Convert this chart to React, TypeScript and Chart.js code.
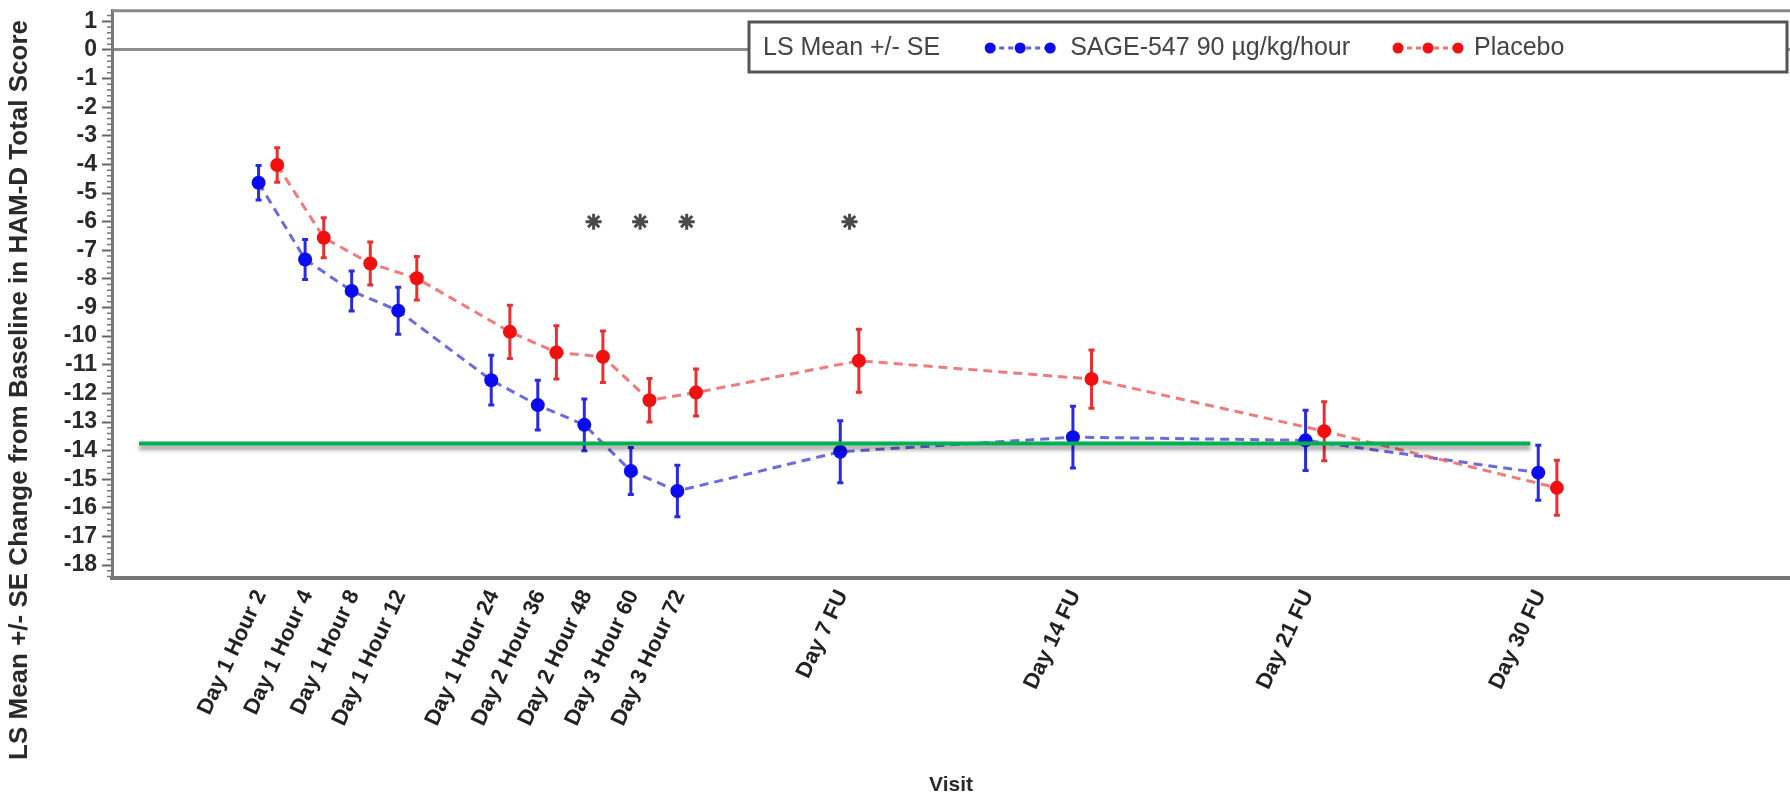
import React, { useEffect, useRef } from "react";
import { Chart, registerables } from "chart.js";

Chart.register(...registerables);

// ---------------- data ----------------
const categories = [
  "Day 1 Hour 2",
  "Day 1 Hour 4",
  "Day 1 Hour 8",
  "Day 1 Hour 12",
  "Day 1 Hour 24",
  "Day 2 Hour 36",
  "Day 2 Hour 48",
  "Day 3 Hour 60",
  "Day 3 Hour 72",
  "Day 7 FU",
  "Day 14 FU",
  "Day 21 FU",
  "Day 30 FU",
];
// position of each visit along the (non-uniform) visit axis
const visitPositions = [0, 1, 2, 3, 5, 6, 7, 8, 9, 12.5, 17.5, 22.5, 27.5];

const sageMean = [-4.64, -7.32, -8.42, -9.11, -11.54, -12.41, -13.1, -14.71, -15.41, -14.04, -13.53, -13.64, -14.77];
const sageSE = [0.6, 0.7, 0.7, 0.82, 0.87, 0.87, 0.9, 0.82, 0.9, 1.08, 1.08, 1.05, 0.96];
const placeboMean = [-4.02, -6.56, -7.46, -7.98, -9.85, -10.57, -10.72, -12.24, -11.97, -10.86, -11.5, -13.32, -15.3];
const placeboSE = [0.6, 0.7, 0.75, 0.76, 0.93, 0.93, 0.9, 0.76, 0.82, 1.1, 1.02, 1.03, 0.96];

const yTicks = [1, 0, -1, -2, -3, -4, -5, -6, -7, -8, -9, -10, -11, -12, -13, -14, -15, -16, -17, -18];
const significantVisits = ["Day 2 Hour 48", "Day 3 Hour 60", "Day 3 Hour 72", "Day 7 FU"];
const starLevel = -6.0;
const referenceLevel = -13.75;
const referenceSpan = [-2.77, 27.13];
const dodge = 0.2;

const yTitle = "LS Mean +/- SE Change from Baseline in HAM-D Total Score";
const xTitle = "Visit";
const legendTitle = "LS Mean +/- SE";
const sageLabel = "SAGE-547 90 \u00b5g/kg/hour";
const placeboLabel = "Placebo";

const FONT = "'Liberation Sans', Arial, sans-serif";

// ---------------- plugin ----------------
const decorPlugin = {
  id: "decor",
  beforeDatasetsDraw(chart: any) {
    const ctx = chart.ctx;
    const yScale = chart.scales.y;
    chart.data.datasets.forEach((ds: any, i: number) => {
      if (!ds.se) return;
      const meta = chart.getDatasetMeta(i);
      ctx.save();
      ctx.strokeStyle = ds.errColor;
      ctx.lineWidth = 3;
      ds.data.forEach((pt: any, j: number) => {
        const el = meta.data[j];
        if (!el) return;
        const x = el.x;
        const yt = yScale.getPixelForValue(pt.y + ds.se[j]);
        const yb = yScale.getPixelForValue(pt.y - ds.se[j]);
        ctx.beginPath();
        ctx.moveTo(x, yt);
        ctx.lineTo(x, yb);
        ctx.moveTo(x - 3, yt);
        ctx.lineTo(x + 3, yt);
        ctx.moveTo(x - 3, yb);
        ctx.lineTo(x + 3, yb);
        ctx.stroke();
      });
      ctx.restore();
    });
  },
  beforeDatasetDraw(chart: any, args: any) {
    const ds = chart.data.datasets[args.index];
    if (ds && ds.isRef) {
      chart.ctx.save();
      chart.ctx.shadowColor = "rgba(0,0,0,0.45)";
      chart.ctx.shadowBlur = 4;
      chart.ctx.shadowOffsetY = 4;
    }
  },
  afterDatasetDraw(chart: any, args: any) {
    const ds = chart.data.datasets[args.index];
    if (ds && ds.isRef) chart.ctx.restore();
  },
  afterDraw(chart: any) {
    const ctx = chart.ctx;
    const area = chart.chartArea;
    const yScale = chart.scales.y;
    ctx.save();
    // top frame line
    ctx.strokeStyle = "#8a8a8a";
    ctx.lineWidth = 3;
    ctx.beginPath();
    ctx.moveTo(area.left, area.top);
    ctx.lineTo(area.right, area.top);
    ctx.stroke();
    // minor ticks
    ctx.strokeStyle = "#777";
    ctx.lineWidth = 1.5;
    ctx.beginPath();
    for (let k = -92; k <= 6; k++) {
      if (k % 5 === 0) continue;
      const y = yScale.getPixelForValue(k / 5);
      ctx.moveTo(area.left - 5, y);
      ctx.lineTo(area.left, y);
    }
    ctx.stroke();
    // y title
    ctx.fillStyle = "#2a2a2a";
    ctx.font = `bold 26px ${FONT}`;
    ctx.textAlign = "center";
    ctx.textBaseline = "middle";
    ctx.translate(20, 390);
    ctx.rotate(-Math.PI / 2);
    ctx.fillText(yTitle, 0, 0);
    ctx.restore();

    // legend
    ctx.save();
    const bx = 749, by = 22, bw = 1038, bh = 50;
    ctx.fillStyle = "#fff";
    ctx.fillRect(bx, by, bw, bh);
    ctx.strokeStyle = "#555";
    ctx.lineWidth = 3;
    ctx.strokeRect(bx, by, bw, bh);
    ctx.font = `25px ${FONT}`;
    ctx.fillStyle = "#444";
    ctx.textBaseline = "middle";
    ctx.textAlign = "left";
    const cy = by + bh / 2 + 1;
    let x = bx + 14;
    ctx.fillText(legendTitle, x, cy);
    x += ctx.measureText(legendTitle).width;
    const drawMarker = (x0: number, color: string, line: string) => {
      ctx.strokeStyle = line;
      ctx.lineWidth = 3;
      ctx.setLineDash([5, 4]);
      ctx.beginPath();
      ctx.moveTo(x0, cy);
      ctx.lineTo(x0 + 60, cy);
      ctx.stroke();
      ctx.setLineDash([]);
      ctx.fillStyle = color;
      for (let i = 0; i < 3; i++) {
        ctx.beginPath();
        ctx.arc(x0 + i * 30, cy, 5.5, 0, Math.PI * 2);
        ctx.fill();
      }
    };
    x += 50;
    drawMarker(x, "#0b0bef", "rgba(70,70,215,0.85)");
    x += 60 + 20;
    ctx.fillStyle = "#444";
    ctx.fillText(sageLabel, x, cy);
    x += ctx.measureText(sageLabel).width + 48;
    drawMarker(x, "#f01010", "rgba(238,100,100,0.9)");
    x += 60 + 16;
    ctx.fillStyle = "#444";
    ctx.fillText(placeboLabel, x, cy);
    ctx.restore();
  },
};

export default function App() {
  const canvasRef = useRef<HTMLCanvasElement | null>(null);

  useEffect(() => {
    if (!canvasRef.current) return;
    Chart.defaults.font.family = FONT;
    const sagePoints = visitPositions.map((p, i) => ({ x: p - dodge, y: sageMean[i] }));
    const placeboPoints = visitPositions.map((p, i) => ({ x: p + dodge, y: placeboMean[i] }));
    const starPoints = significantVisits.map((v) => ({ x: visitPositions[categories.indexOf(v)], y: starLevel }));
    const refPoints = referenceSpan.map((x) => ({ x, y: referenceLevel }));

    const chart = new Chart(canvasRef.current, {
      type: "line",
      data: {
        datasets: [
          {
            label: "reference",
            data: refPoints,
            borderColor: "#00b050",
            borderWidth: 4,
            pointRadius: 0,
            fill: false,
            order: 0,
            isRef: true,
          } as any,
          {
            label: "significant",
            type: "scatter",
            data: starPoints,
            pointStyle: "star",
            pointRadius: 8,
            borderColor: "#4a4a4a",
            backgroundColor: "#4a4a4a",
            borderWidth: 3,
            showLine: false,
            order: 1,
          } as any,
          {
            label: sageLabel,
            data: sagePoints,
            borderColor: "rgba(70,70,215,0.8)",
            borderDash: [9, 6],
            borderWidth: 3,
            pointRadius: 7,
            pointBackgroundColor: "#0b0bef",
            pointBorderColor: "#0b0bef",
            pointBorderWidth: 0,
            fill: false,
            order: 3,
            se: sageSE,
            errColor: "#2a2ae2",
          } as any,
          {
            label: placeboLabel,
            data: placeboPoints,
            borderColor: "rgba(238,100,100,0.85)",
            borderDash: [9, 6],
            borderWidth: 3,
            pointRadius: 7,
            pointBackgroundColor: "#f01010",
            pointBorderColor: "#f01010",
            pointBorderWidth: 0,
            fill: false,
            order: 2,
            se: placeboSE,
            errColor: "#e83030",
          } as any,
        ],
      },
      options: {
        animation: false,
        responsive: true,
        maintainAspectRatio: false,
        layout: { autoPadding: false, padding: { left: 0, right: 0, top: 10.7, bottom: 0 } },
        plugins: { legend: { display: false }, tooltip: { enabled: false } },
        scales: {
          x: {
            type: "linear",
            min: -3.35,
            max: 32.71,
            afterBuildTicks: (s: any) => {
              s.ticks = visitPositions.map((v) => ({ value: v }));
            },
            afterFit: (s: any) => {
              s.height = 221;
              s.paddingLeft = 0;
              s.paddingRight = 0;
            },
            ticks: {
              autoSkip: false,
              minRotation: 65,
              maxRotation: 65,
              padding: 0,
              labelOffset: -7,
              color: "#222",
              font: { size: 22, weight: "bold" },
              callback: (v: any) => {
                const idx = visitPositions.indexOf(Number(v));
                return idx >= 0 ? categories[idx] : "";
              },
            },
            grid: { display: false },
            border: { display: true, color: "#777", width: 4 },
            title: {
              display: true,
              text: xTitle,
              color: "#2a2a2a",
              font: { size: 21, weight: "bold" },
              padding: { top: 0, bottom: 1 },
            },
          },
          y: {
            type: "linear",
            min: -18.45,
            max: 1.37,
            afterBuildTicks: (s: any) => {
              s.ticks = yTicks.map((v) => ({ value: v }));
            },
            afterFit: (s: any) => {
              s.width = 112;
              s.paddingTop = 0;
              s.paddingBottom = 0;
            },
            ticks: {
              autoSkip: false,
              padding: 5,
              color: "#2a2a2a",
              font: { size: 23, weight: "bold" },
            },
            grid: {
              drawOnChartArea: true,
              color: (c: any) => (c.tick && c.tick.value === 0 ? "#8c8c8c" : "rgba(0,0,0,0)"),
              lineWidth: (c: any) => (c.tick && c.tick.value === 0 ? 3 : 1),
              tickColor: "#666",
              tickWidth: 2,
              tickLength: 10,
            },
            border: { display: true, color: "#777", width: 3 },
          },
        },
      } as any,
      plugins: [decorPlugin],
    });
    return () => chart.destroy();
  }, []);

  return (
    <div style={{ position: "fixed", left: 0, top: 0, width: 1790, height: 799, background: "#fff" }}>
      <canvas ref={canvasRef} />
    </div>
  );
}
